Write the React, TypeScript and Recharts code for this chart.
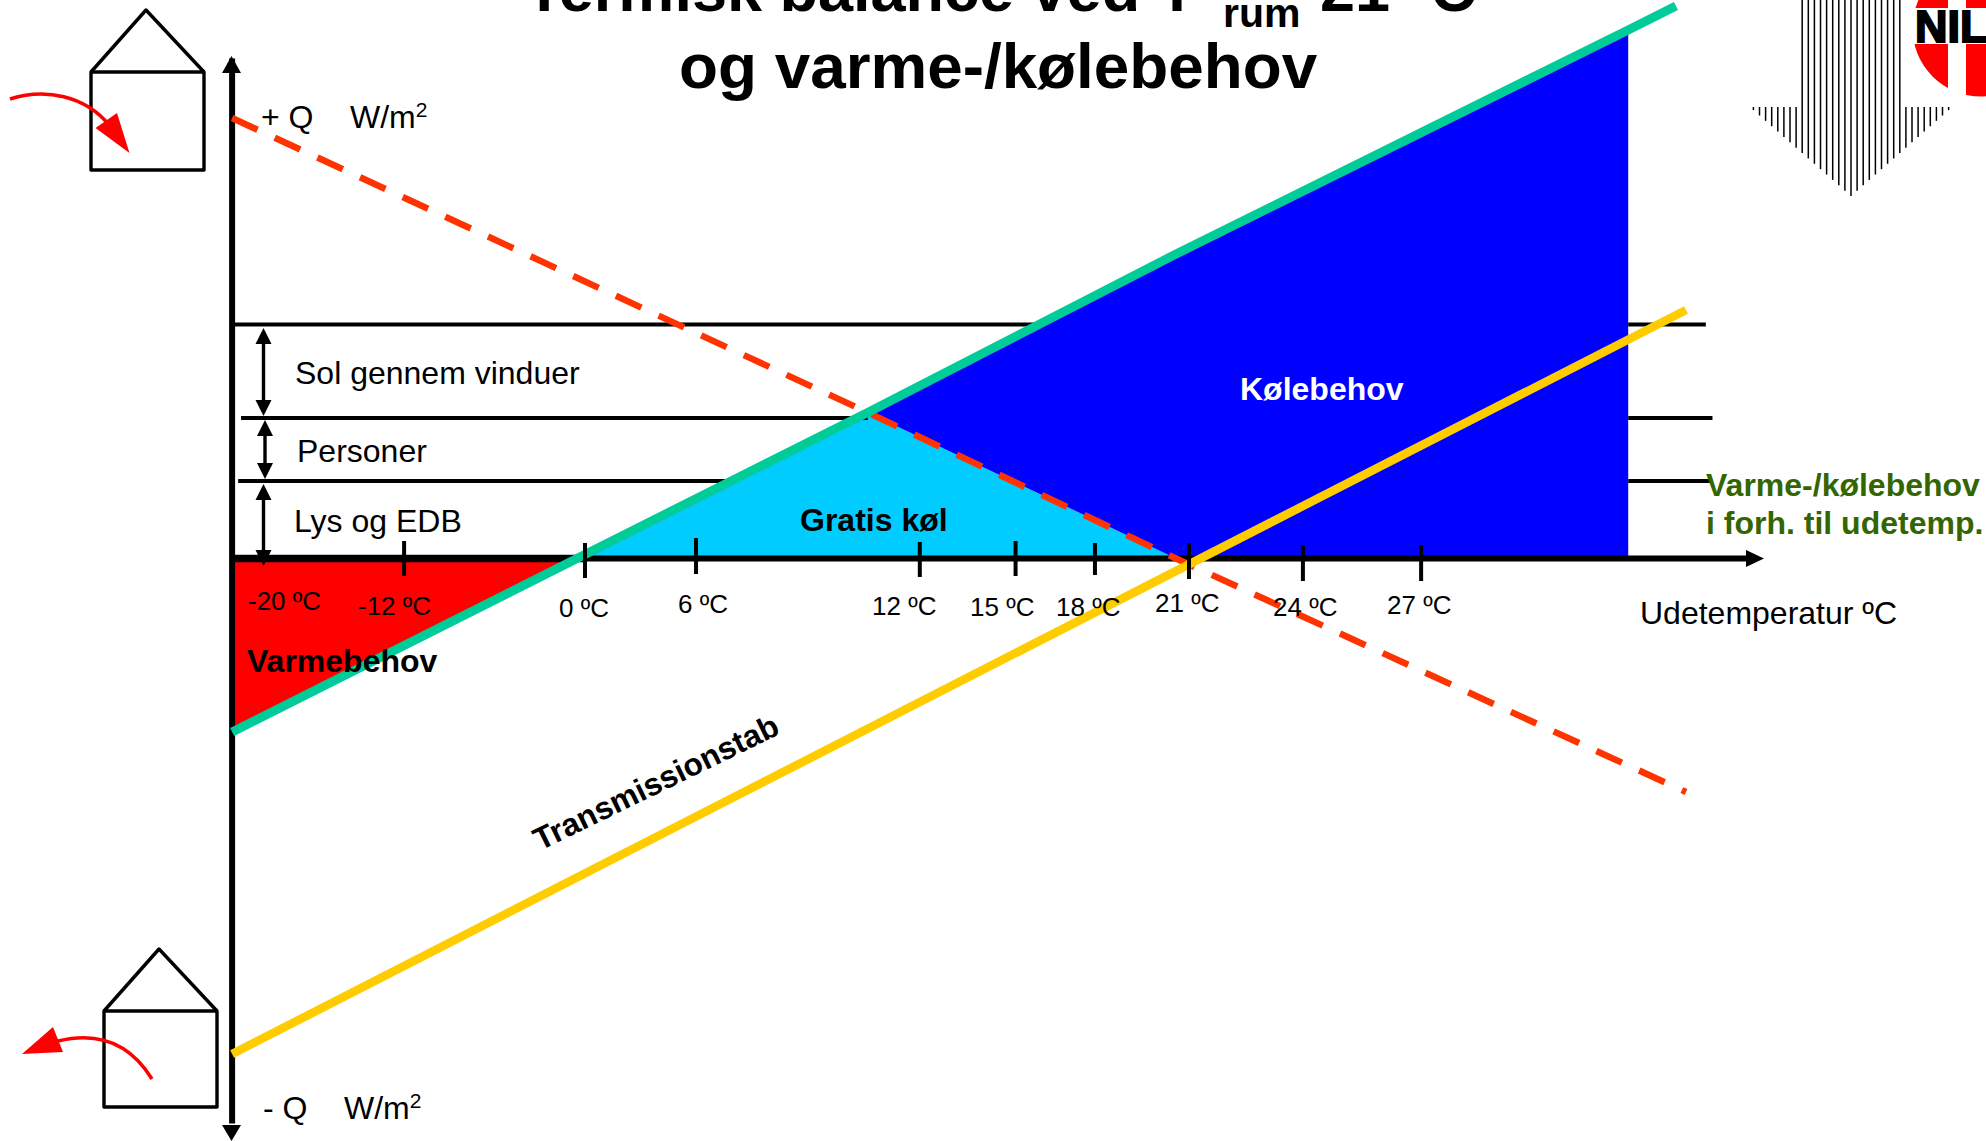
import React from "react";
import { ComposedChart, Line, Area, XAxis, YAxis, ReferenceLine } from "recharts";

// ---- data (x: schematic temperature axis, y: W/m2) ----
const xStops = [-12.27, -0.28, 9.83, 20.55, 36.27, 37.93, 38.28];
const solarGain = [-34.7, 0, 29.2, 60.9, 105.7, 110.5, null];
const transmission = [-99.1, null, null, null, null, null, 49.7];
const balance = [88.1, null, 29.2, 0, null, null, -46.7];
const heatingNeed = [[-34.7, 0], [0, 0], null, null, null, null, null];
const freeCooling = [null, [0, 0], [0, 29.2], [0, 0], null, null, null];
const coolingNeed = [null, null, [29.2, 29.2], [0, 60.9], [0, 105.7], null, null];

const tickValues = [-12.27, -6.29, 0, 3.86, 11.64, 14.97, 17.73, 21, 24.96, 29.07];
const tickLabels = ["-20 ºC", "-12 ºC", "0 ºC", "6 ºC", "12 ºC", "15 ºC", "18 ºC", "21 ºC", "24 ºC", "27 ºC"];

// [level, left start, left end, right start, right end]
const gainLevels = [
  [46.8, -12.27, 16.0, 36.27, 38.97],
  [28.1, -11.96, 9.83, 36.27, 39.2],
  [15.5, -12.06, 5.2, 36.27, 39.2],
];

// ---- layout only ----
const W = 1986;
const H = 1141;
const X_DOMAIN = [-20.34, 48.71];
const Y_DOMAIN = [-116.3, 111.7];
const FONT = "'Liberation Sans', Arial, sans-serif";
const tickLabelLeft = [248, 358, 559, 678, 872, 970, 1056, 1155, 1273, 1387];
const tickLabelBase = [610, 615, 617, 613, 615, 616, 616, 612, 616, 614];
const tickTop = [0, 541, 543, 538, 542, 541, 543, 543, 545, 545];
const tickBottom = [0, 576, 578, 574, 577, 576, 575, 579, 581, 581];

const rows = xStops.map((x, i) => ({
  x,
  solarGain: solarGain[i],
  transmission: transmission[i],
  balance: balance[i],
  heatingNeed: heatingNeed[i],
  freeCooling: freeCooling[i],
  coolingNeed: coolingNeed[i],
}));

function AxisTick(props: any) {
  const i = tickValues.indexOf(props.payload.value);
  if (i < 0) return null;
  return (
    <g>
      {tickTop[i] > 0 && (
        <line x1={props.x} x2={props.x} y1={tickTop[i]} y2={tickBottom[i]} stroke="#000" strokeWidth={4} />
      )}
      <text x={tickLabelLeft[i]} y={tickLabelBase[i]} fontFamily={FONT} fontSize={26} fill="#000">
        {tickLabels[i]}
      </text>
    </g>
  );
}

function House({ l, r, t, b, ax, ay }: any) {
  return (
    <g fill="none" stroke="#000" strokeWidth={3.4} strokeLinejoin="round">
      <rect x={l} y={t} width={r - l} height={b - t} />
      <polyline points={`${l},${t} ${ax},${ay} ${r},${t}`} />
    </g>
  );
}

function Txt({ x, y, size = 32, bold, fill = "#000", children, transform }: any) {
  return (
    <text x={x} y={y} fontFamily={FONT} fontSize={size} fontWeight={bold ? 700 : 400} fill={fill} transform={transform}>
      {children}
    </text>
  );
}

function DoubleArrow({ x, y1, y2 }: any) {
  return (
    <g>
      <line x1={x} x2={x} y1={y1 + 8} y2={y2 - 8} stroke="#000" strokeWidth={3.4} />
      <polygon points={`${x},${y1} ${x - 8},${y1 + 16} ${x + 8},${y1 + 16}`} fill="#000" />
      <polygon points={`${x},${y2} ${x - 8},${y2 - 16} ${x + 8},${y2 - 16}`} fill="#000" />
    </g>
  );
}

function HatchedArrow() {
  const lines = [];
  for (let k = -16; k <= 16; k++) {
    const x = 1851 + k * 6.1;
    const shaft = x > 1797 && x < 1903;
    const bottom = 196 - Math.abs(x - 1851) * 0.88;
    lines.push(<line key={k} x1={x} x2={x} y1={shaft ? 0 : 107} y2={bottom} stroke="#000" strokeWidth={1.5} />);
  }
  return <g>{lines}</g>;
}

function Logo() {
  return (
    <g>
      <circle cx={1981} cy={28} r={68.5} fill="#FF0000" />
      <rect x={1948} y={0} width={18} height={100} fill="#fff" />
      <rect x={1905} y={8} width={81} height={36} fill="#fff" />
      <text x={1915} y={42} fontFamily={FONT} fontWeight={700} fontSize={45} fill="#000" stroke="#000" strokeWidth={2}>
        NILAN
      </text>
    </g>
  );
}

function Decor() {
  return (
    <svg width={W} height={H} style={{ position: "absolute", left: 0, top: 0, pointerEvents: "none" }}>
      <HatchedArrow />
      <Logo />
      <House l={91} r={204} t={72} b={170} ax={146} ay={10} />
      <House l={104} r={217} t={1011} b={1107} ax={159} ay={949} />
      <path d="M10,99 C45,88 85,95 110,126" fill="none" stroke="#FF0000" strokeWidth={3.5} />
      <polygon points="129.5,153 117,113 95.5,128" fill="#FF0000" />
      <path d="M152,1079 C128,1040 95,1032 58,1041" fill="none" stroke="#FF0000" strokeWidth={3.5} />
      <polygon points="22,1054 53,1027 63,1052" fill="#FF0000" />
      <polygon points="231.5,56 222,73 241,73" fill="#000" />
      <polygon points="231.5,1141 222,1125 241,1125" fill="#000" />
      <polygon points="1764,558.5 1746,550 1746,567" fill="#000" />
      <DoubleArrow x={263.5} y1={328} y2={416} />
      <DoubleArrow x={265} y1={420} y2={479} />
      <DoubleArrow x={263.5} y1={484} y2={566} />

      <Txt x={525} y={11} size={63} bold>Termisk balance ved T</Txt>
      <Txt x={1223} y={27} size={41} bold>rum</Txt>
      <Txt x={1320} y={11} size={63} bold>21º C</Txt>
      <Txt x={679} y={88} size={63.8} bold>og varme-/kølebehov</Txt>

      <Txt x={261} y={128}>+ Q</Txt>
      <Txt x={350} y={128}>W/m<tspan dy={-11} fontSize={21}>2</tspan></Txt>
      <Txt x={263} y={1119}>- Q</Txt>
      <Txt x={344} y={1119}>W/m<tspan dy={-11} fontSize={21}>2</tspan></Txt>
      <Txt x={295} y={384}>Sol gennem vinduer</Txt>
      <Txt x={297} y={462}>Personer</Txt>
      <Txt x={294} y={532}>Lys og EDB</Txt>
      <Txt x={1240} y={400} bold fill="#fff">Kølebehov</Txt>
      <Txt x={800} y={531} bold>Gratis køl</Txt>
      <Txt x={247} y={672} bold>Varmebehov</Txt>
      <Txt x={0} y={0} bold size={31.6} transform="translate(540,851) rotate(-26)">Transmissionstab</Txt>
      <Txt x={1706} y={496} bold fill="#336600">Varme-/kølebehov</Txt>
      <Txt x={1706} y={534} bold fill="#336600">i forh. til udetemp.</Txt>
      <Txt x={1640} y={624}>Udetemperatur ºC</Txt>
    </svg>
  );
}

export default function App() {
  return (
    <div style={{ position: "absolute", left: 0, top: 0, width: W, height: H, background: "#fff", overflow: "hidden" }}>
      <ComposedChart width={W} height={H} data={rows} margin={{ top: 0, right: 0, bottom: 0, left: 0 }}>
        <XAxis
          dataKey="x"
          type="number"
          domain={X_DOMAIN}
          allowDataOverflow
          ticks={tickValues}
          interval={0}
          height={1}
          axisLine={false}
          tickLine={false}
          tick={<AxisTick />}
          zIndex={1000}
        />
        <YAxis type="number" domain={Y_DOMAIN} allowDataOverflow hide width={0} />

        {gainLevels.map(([lvl, leftStart, leftEnd], i) => (
          <ReferenceLine key={"a" + i} segment={[{ x: leftStart, y: lvl }, { x: leftEnd, y: lvl }]} stroke="#000" strokeWidth={3.8} />
        ))}
        {gainLevels.map(([lvl, , , rightStart, rightEnd], i) => (
          <ReferenceLine key={"b" + i} segment={[{ x: rightStart, y: lvl }, { x: rightEnd, y: lvl }]} stroke="#000" strokeWidth={3.8} />
        ))}

        <Area dataKey="heatingNeed" type="linear" fill="#FF0000" fillOpacity={1} stroke="none" connectNulls dot={false} activeDot={false} isAnimationActive={false} />
        <Area dataKey="freeCooling" type="linear" fill="#00CCFF" fillOpacity={1} stroke="none" connectNulls dot={false} activeDot={false} isAnimationActive={false} />
        <Area dataKey="coolingNeed" type="linear" fill="#0000FF" fillOpacity={1} stroke="none" connectNulls dot={false} activeDot={false} isAnimationActive={false} />

        <ReferenceLine segment={[{ x: -12.27, y: 100 }, { x: -12.27, y: -113 }]} stroke="#000" strokeWidth={6} />
        <ReferenceLine segment={[{ x: -12.27, y: 0 }, { x: 0, y: 0 }]} stroke="#000" strokeWidth={7.5} />
        <ReferenceLine segment={[{ x: 0, y: 0 }, { x: 40.6, y: 0 }]} stroke="#000" strokeWidth={6} />

        <Line dataKey="balance" type="linear" stroke="#FF3300" strokeWidth={6.5} strokeDasharray="28 19" connectNulls dot={false} activeDot={false} isAnimationActive={false} />
        <Line dataKey="transmission" type="linear" stroke="#FFCC00" strokeWidth={8.5} connectNulls dot={false} activeDot={false} isAnimationActive={false} />
        <Line dataKey="solarGain" type="linear" stroke="#00CC99" strokeWidth={9} connectNulls dot={false} activeDot={false} isAnimationActive={false} />
      </ComposedChart>
      <Decor />
    </div>
  );
}
